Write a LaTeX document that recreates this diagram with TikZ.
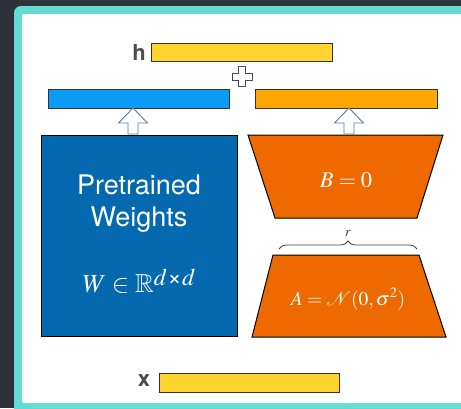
\documentclass[tikz,border=0pt]{standalone}
\usepackage{amssymb}
\usepackage{mathptmx}
\usepackage[no-math]{fontspec}
\newfontfamily\hv{TeX Gyre Heros}
\usetikzlibrary{decorations.pathreplacing}
\definecolor{bgdark}{HTML}{2C313A}
\definecolor{tealc}{HTML}{62DCD4}
\definecolor{yellowc}{HTML}{FFD42F}
\definecolor{bluebar}{HTML}{0A9BF7}
\definecolor{orangebar}{HTML}{FEA602}
\definecolor{bigblue}{HTML}{0569B0}
\definecolor{trapor}{HTML}{EE6A00}
\definecolor{arrowc}{HTML}{5A7EA0}
\definecolor{labelgray}{HTML}{4D4D4D}
\tikzset{
  bar/.style={draw=black!80, line width=0.8pt, inner sep=0pt},
  trap/.style={draw=black, line width=1pt, fill=trapor},
  arrowline/.style={draw=arrowc, line width=0.9pt, fill=white},
  veclabel/.style={font=\hv\bfseries\fontsize{22}{26}\selectfont, text=labelgray, inner sep=0pt},
  wlabel/.style={text=white, inner sep=0pt},
  uparrow/.pic={\path[arrowline] (0,0) -- (14.5,15) -- (5,15) -- (5,26) -- (-5,26) -- (-5,15) -- (-14.5,15) -- cycle;},
  plussign/.pic={\path[draw=black!70, line width=0.8pt, fill=white] (-3.5,-10) -- (3.5,-10) -- (3.5,-3.5) -- (10,-3.5) -- (10,3.5) -- (3.5,3.5) -- (3.5,10) -- (-3.5,10) -- (-3.5,3.5) -- (-10,3.5) -- (-10,-3.5) -- (-3.5,-3.5) -- cycle;}
}
\begin{document}
\begin{tikzpicture}[x=1pt,y=-1pt]
\useasboundingbox (0,0) rectangle (461,408);
\fill[bgdark] (0,0) rectangle (461,408);
\begin{scope}
  \clip (0,0) rectangle (461,408);
  \fill[tealc, rounded corners=7pt] (14,6) rectangle (490,430);
  \fill[white, rounded corners=2pt] (22,14) rectangle (480,403);
\end{scope}
% bars
\node[bar, fill=yellowc, minimum width=181pt, minimum height=18pt] (hbar) at (241.5,52) {};
\node[veclabel] (hlab) at (139,52) {h};
\pic at (242,76.5) {plussign};
\node[bar, fill=bluebar, minimum width=181pt, minimum height=19pt] (bbar) at (138.5,98.5) {};
\node[bar, fill=orangebar, minimum width=182pt, minimum height=19pt] (obar) at (346,98.5) {};
\node[bar, fill=yellowc, minimum width=180pt, minimum height=19pt] (xbar) at (249,382.5) {};
\node[veclabel] (xlab) at (144,381) {x};
% pretrained weights
\node[draw=black, line width=1pt, fill=bigblue, minimum width=196pt, minimum height=201pt, inner sep=0pt] (W) at (139,235.5) {};
\node[wlabel, anchor=base, font=\hv\fontsize{27}{32}\selectfont] (t1) at (139,194) {Pretrained};
\node[wlabel, anchor=base, font=\hv\fontsize{27}{32}\selectfont] (t2) at (139,226) {Weights};
\node[wlabel, anchor=base, font=\fontsize{26}{30}\selectfont] (t3) at (139,292) {$W\in\mathbb{R}$\raisebox{7pt}{\fontsize{24}{26}\selectfont$d$\kern0.5pt{\hv ×}\kern0.5pt$d$}};
% trapezoids
\path[trap] (248,135) -- (443,135) -- (417,218) -- (275,218) -- cycle;
\node[wlabel, anchor=base, font=\fontsize{22.5}{26}\selectfont] (Blab) at (346,187) {$B=0$};
\path[trap] (273,255) -- (419,255) -- (446,337) -- (252,337) -- cycle;
\node[wlabel, anchor=base, font=\fontsize{19.5}{23}\selectfont] (Alab) at (348,305) {$A=\mathcal{N}(0,\sigma^2)$};
% brace
\coordinate (brL) at (279,249);
\coordinate (brR) at (417,249);
\draw[black!75, line width=0.8pt, decorate, decoration={brace, amplitude=8pt}] (brL) -- (brR);
\node[anchor=base, inner sep=0pt, text=black!75, font=\fontsize{14}{16}\selectfont] (rlab) at (348,236) {$r$};
% arrows
\pic at (133,108) {uparrow};
\pic at (349,108) {uparrow};
\end{tikzpicture}
\end{document}
